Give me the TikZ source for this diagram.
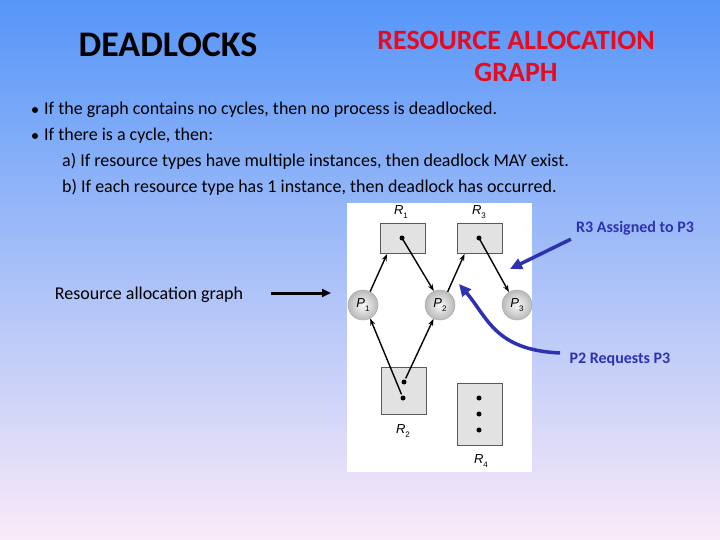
\documentclass[tikz,border=0pt]{standalone}
\usepackage{fontspec}
\setmainfont{Carlito}
\newfontfamily\helv{Liberation Sans}
\usetikzlibrary{arrows.meta,shadings}
\definecolor{bgtop}{RGB}{86,150,248}
\definecolor{bgmid}{RGB}{155,197,245}
\definecolor{bgbot}{RGB}{250,234,248}
\definecolor{titlered}{RGB}{232,10,30}
\definecolor{annblue}{RGB}{45,50,175}
\definecolor{boxfill}{RGB}{226,226,226}
\definecolor{boxdraw}{RGB}{90,90,90}
\newcommand{\plab}[2]{{\helv\itshape #1}\raisebox{-4pt}{\helv\fontsize{8}{8}\selectfont #2}}
\tikzset{
  resbox/.style={draw=boxdraw, line width=0.9pt, fill=boxfill, inner sep=0pt},
  procnode/.style={circle, draw=gray!65, line width=0.5pt, inner color=gray!5, outer color=gray!55, minimum size=30pt, inner sep=0pt, font=\fontsize{13}{13}\selectfont},
  dotn/.style={circle, fill=black, inner sep=0pt, minimum size=5pt},
  arr/.style={-{Stealth[length=7pt,width=5pt]}, line width=1.4pt, black},
  bluearr/.style={-{Triangle[length=12pt,width=11pt]}, line width=3.5pt, annblue},
  bullettext/.style={anchor=base west, inner sep=0pt, font=\fontsize{18}{21}\selectfont},
  bulletdot/.style={circle, fill=black, inner sep=0pt, minimum size=6pt},
  reslabel/.style={inner sep=0pt, font=\fontsize{13}{13}\selectfont},
  annot/.style={text=annblue, font=\bfseries\fontsize{16}{18}\selectfont, inner sep=0pt}
}
\begin{document}
\begin{tikzpicture}[x=1pt,y=-1pt]
\shade[top color=bgtop, middle color=bgmid, bottom color=bgbot] (0,0) rectangle (720,540);
\useasboundingbox (0,0) rectangle (720,540);

% titles
\node[font=\bfseries\fontsize{36}{40}\selectfont] (t1) at (168,45) {DEADLOCKS};
\node[text=titlered, align=center, font=\bfseries\fontsize{28}{32}\selectfont] (t2) at (516,56) {RESOURCE ALLOCATION\\GRAPH};

% bullets
\node[bulletdot] (b1s) at (35,110) {};
\node[bullettext] (b1) at (44,115) {If the graph contains no cycles, then no process is deadlocked.};
\node[bulletdot] (b2s) at (35,136) {};
\node[bullettext] (b2) at (44,141) {If there is a cycle, then:};
\node[bullettext] (b3) at (62,167) {a) If resource types have multiple instances, then deadlock MAY exist.};
\node[bullettext] (b4) at (62,193) {b) If each resource type has 1 instance, then deadlock has occurred.};

% graph panel
\fill[white] (347,203) rectangle (532,472);

\node[resbox, minimum width=45pt, minimum height=30pt] (r1) at (403,238.5) {};
\node[resbox, minimum width=45pt, minimum height=30pt] (r3) at (479.5,238.5) {};
\node[resbox, minimum width=45pt, minimum height=47pt] (r2) at (403.5,390.5) {};
\node[resbox, minimum width=45pt, minimum height=62pt] (r4) at (479.5,414) {};

\node[reslabel] (lr1) at (401,212) {\plab{R}{1}};
\node[reslabel] (lr3) at (479,212) {\plab{R}{3}};
\node[reslabel] (lr2) at (403,431) {\plab{R}{2}};
\node[reslabel] (lr4) at (481,461) {\plab{R}{4}};

\node[dotn] (d1) at (402,238) {};
\node[dotn] (d3) at (479,238) {};
\node[dotn] (d2a) at (404,382) {};
\node[dotn] (d2b) at (403,398) {};
\node[dotn] (d4a) at (479,398) {};
\node[dotn] (d4b) at (479,414) {};
\node[dotn] (d4c) at (479,430) {};

\node[procnode] (p1) at (363,305) {\plab{P}{1}};
\node[procnode] (p2) at (440,305) {\plab{P}{2}};
\node[procnode] (p3) at (517,305) {\plab{P}{3}};

\draw[arr] (p1.62) -- ([xshift=7pt]r1.south west);
\draw[arr, shorten <=2pt] (d1.center) -- (p2.114);
\draw[arr] (p2.60) -- ([xshift=8pt]r3.south west);
\draw[arr, shorten <=2pt] (d3.center) -- (p3.122);
\draw[arr, shorten <=4pt] (d2b.center) -- (p1.-62);
\draw[arr, shorten <=4pt] (d2a.center) -- (p2.-115);

% annotations
\node[font=\fontsize{18}{20}\selectfont, inner sep=0pt] (rag) at (149,295) {Resource allocation graph};
\coordinate (ragtip) at (331,293);
\draw[-{Triangle[length=9pt,width=8pt]}, line width=3pt, black] ([xshift=28pt,yshift=2pt]rag.east) -- (ragtip);

\node[annot] (a1) at (635,228) {R3 Assigned to P3};
\coordinate (a1tip) at (510,269);
\draw[bluearr] ([xshift=-5pt,yshift=-4pt]a1.south west) -- (a1tip);

\node[annot] (a2) at (620,360) {P2 Requests P3};
\coordinate (a2start) at (560,353);
\coordinate (a2tip) at (459,284);
\draw[bluearr] (a2start) .. controls (495,350) and (488,318) .. (a2tip);
\end{tikzpicture}
\end{document}
